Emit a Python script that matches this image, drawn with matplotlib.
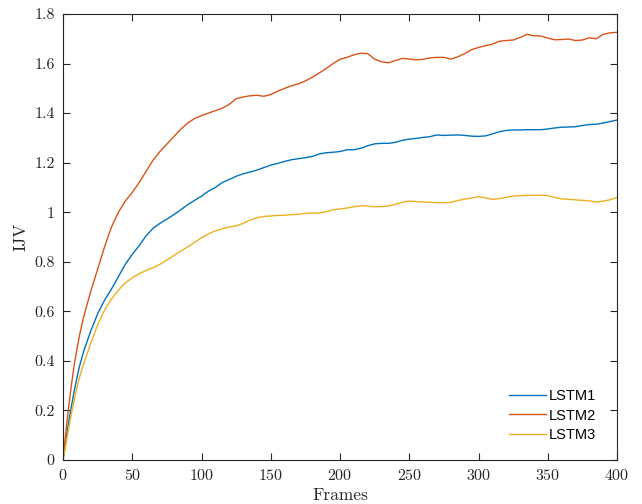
import matplotlib
matplotlib.use('Agg')
import matplotlib.pyplot as plt
from matplotlib.ticker import FuncFormatter

frames = [0, 2, 4, 6, 8, 10, 12, 15, 20, 25, 30, 35, 40, 45, 50, 55, 60, 65, 70, 75,
          80, 85, 90, 95, 100, 105, 110, 115, 120, 125, 130, 135, 140, 145, 150, 155,
          160, 165, 170, 175, 180, 185, 190, 195, 200, 205, 210, 215, 220, 225, 230,
          235, 240, 245, 250, 255, 260, 265, 270, 275, 280, 285, 290, 295, 300, 305,
          310, 315, 320, 325, 330, 335, 340, 345, 350, 355, 360, 365, 370, 375, 380,
          385, 390, 395, 400]

lstm1 = [0, 0.075, 0.15, 0.215, 0.275, 0.33, 0.38, 0.44, 0.52, 0.59, 0.645, 0.69,
         0.74, 0.79, 0.83, 0.865, 0.905, 0.935, 0.955, 0.972, 0.99, 1.01, 1.03, 1.048,
         1.065, 1.085, 1.1, 1.12, 1.132, 1.145, 1.155, 1.162, 1.17, 1.18, 1.19, 1.197,
         1.205, 1.212, 1.216, 1.22, 1.225, 1.235, 1.24, 1.242, 1.245, 1.252, 1.252,
         1.258, 1.268, 1.276, 1.278, 1.278, 1.282, 1.29, 1.295, 1.298, 1.302, 1.305,
         1.312, 1.31, 1.311, 1.312, 1.31, 1.307, 1.306, 1.308, 1.316, 1.325, 1.33,
         1.332, 1.332, 1.333, 1.333, 1.333, 1.336, 1.34, 1.343, 1.344, 1.345, 1.35,
         1.354, 1.355, 1.36, 1.366, 1.372]

lstm2 = [0, 0.11, 0.21, 0.3, 0.38, 0.445, 0.505, 0.58, 0.68, 0.77, 0.86, 0.94, 1.0,
         1.045, 1.08, 1.12, 1.165, 1.21, 1.245, 1.275, 1.305, 1.335, 1.36, 1.378, 1.39,
         1.4, 1.41, 1.42, 1.435, 1.458, 1.465, 1.47, 1.472, 1.468, 1.475, 1.488, 1.5,
         1.51, 1.518, 1.53, 1.545, 1.562, 1.58, 1.6, 1.617, 1.625, 1.635, 1.642, 1.64,
         1.618, 1.607, 1.603, 1.612, 1.621, 1.618, 1.615, 1.617, 1.623, 1.625, 1.625,
         1.618, 1.627, 1.64, 1.656, 1.665, 1.672, 1.678, 1.69, 1.693, 1.695, 1.705,
         1.718, 1.712, 1.711, 1.703, 1.696, 1.697, 1.699, 1.693, 1.695, 1.704, 1.7,
         1.718, 1.724, 1.726]

lstm3 = [0, 0.06, 0.125, 0.185, 0.24, 0.29, 0.335, 0.39, 0.47, 0.545, 0.605, 0.65,
         0.685, 0.715, 0.735, 0.752, 0.765, 0.776, 0.79, 0.807, 0.825, 0.843, 0.86,
         0.878, 0.897, 0.912, 0.925, 0.933, 0.94, 0.945, 0.955, 0.968, 0.978, 0.983,
         0.985, 0.987, 0.988, 0.99, 0.992, 0.995, 0.997, 0.997, 1.002, 1.01, 1.013,
         1.017, 1.022, 1.026, 1.025, 1.022, 1.023, 1.025, 1.032, 1.04, 1.045, 1.043,
         1.041, 1.04, 1.039, 1.038, 1.04, 1.047, 1.053, 1.057, 1.063, 1.058, 1.052,
         1.055, 1.06, 1.065, 1.067, 1.068, 1.068, 1.069, 1.067, 1.06, 1.054, 1.052,
         1.05, 1.048, 1.046, 1.041, 1.045, 1.05, 1.06]

series = [('LSTM1', lstm1, '#0072BD'), ('LSTM2', lstm2, '#D95319'), ('LSTM3', lstm3, '#EDB120')]

plt.rcParams['font.family'] = 'serif'
plt.rcParams['font.serif'] = ['cmr10', 'DejaVu Serif']
plt.rcParams['axes.formatter.use_mathtext'] = True

fig = plt.figure(figsize=(6.42, 5.04), dpi=100)
ax = fig.add_axes([63 / 642, 44 / 504, 554 / 642, 446 / 504])

for name, vals, col in series:
    ax.plot(frames, vals, color=col, lw=1.0, label=name)

ax.set_xlim(0, 400)
ax.set_ylim(0, 1.8)
ax.set_xticks(range(0, 401, 50))
ax.set_yticks([i * 0.2 for i in range(10)])
ax.yaxis.set_major_formatter(FuncFormatter(lambda v, p: '%g' % round(v, 1)))
ax.tick_params(direction='in', top=True, right=True, length=5, width=0.8,
               color='#262626', labelcolor='#262626', labelsize=11.5, pad=6)
for s in ax.spines.values():
    s.set_color('#262626')
    s.set_linewidth(0.8)

ax.set_xlabel('Frames', fontsize=12.5, color='#262626', labelpad=3)
ax.set_ylabel('IJV', fontsize=12.5, color='#262626', labelpad=4)

leg = ax.legend(loc='lower right', bbox_to_anchor=(1 - 6 / 554, 3 / 446),
                frameon=False, handlelength=2.5,
                prop={'family': 'Liberation Sans', 'size': 10.5},
                borderaxespad=0.6, labelspacing=0.4, handletextpad=0.25)

fig.savefig('out.png', dpi=100)
